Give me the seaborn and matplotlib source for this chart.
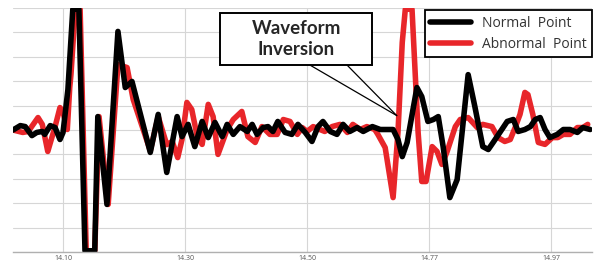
import pandas as pd
import matplotlib
matplotlib.use("Agg")
import matplotlib.pyplot as plt
import seaborn as sns
from matplotlib.patches import Rectangle

# 正常点波形 (时间, 幅值)
normal_t = [14.018, 14.030, 14.038, 14.049, 14.057, 14.066, 14.070, 14.079, 14.087, 14.095,
            14.100, 14.108, 14.116, 14.126, 14.136, 14.152, 14.157, 14.172, 14.190, 14.202,
            14.213, 14.243, 14.256, 14.270, 14.287, 14.295, 14.305, 14.316, 14.328, 14.338,
            14.349, 14.361, 14.369, 14.379, 14.390, 14.402, 14.410, 14.418, 14.428, 14.436,
            14.444, 14.452, 14.464, 14.475, 14.485, 14.497, 14.508, 14.518, 14.526, 14.538,
            14.549, 14.559, 14.570, 14.582, 14.592, 14.607, 14.620, 14.641, 14.649, 14.656,
            14.664, 14.680, 14.688, 14.698, 14.707, 14.715, 14.723, 14.734, 14.746, 14.764,
            14.775, 14.788, 14.797, 14.805, 14.816, 14.828, 14.838, 14.846, 14.857, 14.866,
            14.874, 14.882, 14.890, 14.898, 14.910, 14.920, 14.931, 14.943, 14.952, 14.964]
normal_v = [0.0, 0.18, 0.14, -0.23, -0.1, -0.06, -0.18, 0.18, 0.1, -0.39,
            -0.1, 1.66, 4.95, 4.95, -4.95, -4.95, 0.55, -3.05, 4.04, 1.74,
            1.99, -0.92, 0.64, -1.74, 0.55, -0.27, 0.23, -0.68, 0.35, -0.31,
            0.31, -0.27, 0.23, -0.18, 0.14, -0.06, 0.23, -0.18, 0.1, 0.14,
            -0.06, 0.35, -0.1, -0.18, 0.23, -0.1, -0.47, 0.14, 0.35, -0.06,
            -0.18, 0.23, -0.06, 0.1, -0.06, 0.14, 0.02, 0.02, -0.39, -1.09,
            -0.51, 1.74, 1.37, 0.35, 0.43, 0.55, -0.68, -2.77, -2.03, 2.27,
            0.96, -0.68, -0.8, -0.51, -0.1, 0.35, 0.43, -0.06, 0.02, 0.14,
            0.43, 0.51, 0.02, -0.31, -0.18, 0.02, 0.02, -0.1, 0.1, 0.02]

# 异常点波形
abnormal_t = [14.018, 14.034, 14.043, 14.059, 14.066, 14.075, 14.087, 14.095, 14.100, 14.107,
              14.111, 14.113, 14.120, 14.128, 14.138, 14.152, 14.159, 14.174, 14.190, 14.205,
              14.215, 14.243, 14.256, 14.270, 14.279, 14.288, 14.295, 14.303, 14.311, 14.320,
              14.328, 14.338, 14.346, 14.354, 14.369, 14.379, 14.393, 14.403, 14.415, 14.426,
              14.439, 14.451, 14.461, 14.472, 14.484, 14.492, 14.500, 14.510, 14.521, 14.529,
              14.541, 14.554, 14.566, 14.575, 14.587, 14.598, 14.611, 14.616, 14.628, 14.641,
              14.649, 14.656, 14.661, 14.672, 14.682, 14.688, 14.695, 14.705, 14.713, 14.721,
              14.729, 14.743, 14.751, 14.764, 14.779, 14.788, 14.803, 14.813, 14.824, 14.833,
              14.841, 14.849, 14.857, 14.862, 14.870, 14.879, 14.890, 14.902, 14.911, 14.920,
              14.931, 14.943, 14.952, 14.960]
abnormal_v = [0.0, -0.1, -0.06, 0.51, 0.23, -0.88, 0.14, 0.92, 0.72, 0.02,
              1.74, 2.27, 4.95, 4.95, -4.95, -4.95, 0.55, -3.05, 2.68, 2.56,
              1.25, -0.85, 0.55, -0.6, -0.47, -1.13, -0.39, 1.13, 0.84, -0.27,
              -0.59, 1.05, 0.55, -1.0, 0.02, 0.43, 0.76, -0.27, -0.51, 0.14,
              -0.18, -0.18, 0.43, 0.35, -0.18, 0.1, -0.06, 0.14, 0.02, -0.06,
              0.14, 0.23, -0.1, 0.23, 0.02, 0.14, 0.02, -0.18, -0.72, -2.77,
              -0.1, 3.59, 4.95, 4.95, -0.1, -2.11, -2.11, -0.68, -0.88, -1.41,
              -0.92, 0.14, 0.43, 0.51, 0.1, 0.23, 0.14, -0.31, -0.47, -0.39,
              0.1, 0.64, 1.54, 1.45, 0.64, -0.51, -0.59, -0.31, -0.31, -0.18,
              -0.18, 0.1, 0.1, 0.23]

tick_pos = [14.10, 14.30, 14.50, 14.70, 14.90]
tick_labels = ["14.10", "14.30", "14.50", "14.77", "14.97"]

normal_df = pd.DataFrame({"t": normal_t, "v": normal_v})
abnormal_df = pd.DataFrame({"t": abnormal_t, "v": abnormal_v})

sns.set_theme(style="whitegrid")
plt.rcParams["font.family"] = ["Open Sans", "DejaVu Sans"]

fig = plt.figure(figsize=(6, 2.62), dpi=100)
ax = fig.add_axes([13 / 600, 10 / 262, 579 / 600, 244 / 262])

line_kw = dict(linewidth=4.0, solid_joinstyle="round", solid_capstyle="round")
sns.lineplot(data=abnormal_df, x="t", y="v", color="#e8262a", sort=False, ax=ax,
             label="Abnormal  Point", **line_kw)
sns.lineplot(data=normal_df, x="t", y="v", color="black", sort=False, ax=ax,
             label="Normal  Point", **line_kw)

ax.set_xlim(14.018, 14.967)
ax.set_ylim(-5, 5)
ax.set_yticks(range(-5, 6))
ax.set_yticklabels([])
ax.set_xticks(tick_pos)
ax.set_xticklabels(tick_labels, fontsize=5, color="#555555")
ax.tick_params(axis="both", length=0, pad=2)
ax.set_xlabel("")
ax.set_ylabel("")
ax.grid(True, color="#d6d6d6", linewidth=0.8)
for side in ["left", "right", "top"]:
    ax.spines[side].set_visible(False)
ax.spines["bottom"].set_color("#b0b0b0")
ax.spines["bottom"].set_linewidth(1.0)

# 图例: 正常在上
handles, labels = ax.get_legend_handles_labels()
leg = ax.legend(handles[::-1], labels[::-1], loc="upper right",
                bbox_to_anchor=(1.0, 0.992), borderaxespad=0, fancybox=False,
                framealpha=1, edgecolor="black", fontsize=10, handlelength=2.9,
                labelspacing=0.45, borderpad=0.4)
leg.get_frame().set_linewidth(1.3)
for txt in leg.get_texts():
    txt.set_color("#333333")

# 注释框 "Waveform Inversion"
box = Rectangle((0.3575, 0.766), 0.2625, 0.213, transform=ax.transAxes,
                facecolor="white", edgecolor="black", linewidth=1.4, zorder=5)
ax.add_patch(box)
ax.text(0.489, 0.873, "Waveform\nInversion", transform=ax.transAxes,
        ha="center", va="center", fontsize=13.5, fontweight="bold",
        linespacing=1.3, zorder=6, family=["Lato", "DejaVu Sans"])
for bx in [0.513, 0.577]:
    ax.annotate("", xy=(14.647, 0.59), xycoords="data",
                xytext=(bx, 0.766), textcoords="axes fraction",
                arrowprops=dict(arrowstyle="-", color="black", lw=0.9,
                                shrinkA=0, shrinkB=0), zorder=4)

fig.savefig("out.png", dpi=100)
